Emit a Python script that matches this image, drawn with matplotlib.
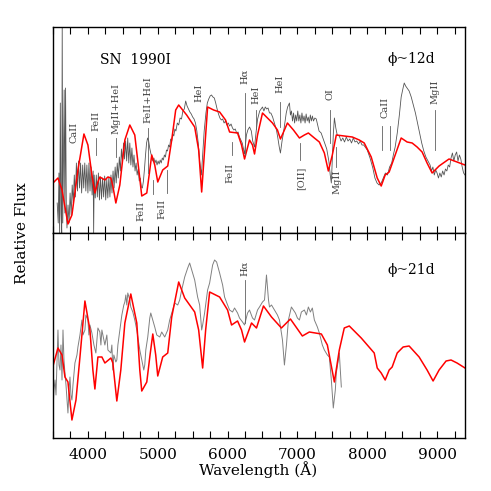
import matplotlib
matplotlib.use("Agg")
import matplotlib.pyplot as plt
from matplotlib.ticker import MultipleLocator

# ---------------- data (relative flux, arbitrary units) ----------------
# Top panel: phase ~12 d
obs12_wave = [3560, 3575, 3585, 3595, 3605, 3615, 3625, 3632, 3640, 3650, 3660, 3670, 3680, 3690,
              3700, 3715, 3730, 3745, 3760, 3775, 3790, 3805, 3820, 3835, 3850, 3865, 3880, 3895,
              3910, 3925, 3940, 3955, 3970, 3985, 4000, 4015, 4030, 4045, 4060, 4075, 4082, 4090,
              4105, 4120, 4135, 4150, 4165, 4180, 4195, 4210, 4225, 4240, 4255, 4270, 4285, 4300,
              4315, 4330, 4345, 4360, 4375, 4390, 4405, 4420, 4435, 4450, 4465, 4480, 4495, 4510,
              4525, 4540, 4555, 4570, 4585, 4600, 4615, 4630, 4645, 4660, 4675, 4690, 4705, 4720,
              4735, 4750, 4765, 4780, 4795, 4810, 4825, 4840, 4855, 4870, 4885, 4900, 4915, 4930,
              4945, 4960, 4975, 4990, 5005, 5020, 5035, 5050, 5065, 5080, 5095, 5110, 5125, 5140,
              5155, 5170, 5185, 5200, 5215, 5230, 5245, 5260, 5280, 5300, 5320, 5340, 5360, 5380,
              5400, 5420, 5440, 5460, 5480, 5500, 5520, 5540, 5560, 5580, 5600, 5625, 5645, 5665,
              5690, 5710, 5730, 5750, 5770, 5790, 5810, 5830, 5850, 5870, 5890, 5910, 5930, 5950,
              5970, 5990, 6010, 6030, 6050, 6070, 6090, 6110, 6130, 6150, 6170, 6190, 6210, 6243,
              6270, 6290, 6315, 6340, 6360, 6386, 6410, 6430, 6460, 6480, 6500, 6520, 6540, 6560,
              6580, 6600, 6620, 6645, 6670, 6700, 6720, 6740, 6757, 6780, 6800, 6820, 6840, 6860,
              6886, 6900, 6915, 6930, 6945, 6960, 6975, 6990, 7005, 7020, 7035, 7050, 7065, 7080,
              7095, 7110, 7125, 7140, 7155, 7170, 7185, 7200, 7215, 7230, 7250, 7270, 7290, 7310,
              7340, 7380, 7420, 7450, 7470, 7486, 7500, 7515, 7530, 7550, 7570, 7600, 7625, 7650,
              7675, 7700, 7725, 7750, 7775, 7800, 7825, 7850, 7875, 7900, 7925, 7950, 8000, 8040,
              8080, 8110, 8140, 8170, 8200, 8230, 8260, 8290, 8320, 8350, 8380, 8400, 8430, 8460,
              8486, 8510, 8530, 8550, 8570, 8600, 8630, 8660, 8690, 8720, 8750, 8780, 8810, 8840,
              8870, 8900, 8920, 8940, 8960, 8980, 9000, 9020, 9040, 9060, 9080, 9100, 9120, 9140,
              9160, 9180, 9200, 9220, 9240, 9260, 9280, 9300, 9320, 9340, 9360, 9380, 9400]
obs12_flux = [0.30, 0.10, 0.60, 0.00, 1.30, 0.20, 0.00, 2.10, 0.10, 0.80, 1.43, 0.20, 1.45, 0.30,
              0.05, 0.28, 0.10, 0.40, 0.18, 0.48, 0.30, 0.58, 0.36, 0.70, 0.42, 0.72, 0.45, 0.70,
              0.40, 0.68, 0.45, 0.70, 0.42, 0.68, 0.40, 0.70, 0.42, 0.66, 0.38, 0.62, 0.00, 0.58,
              0.35, 0.58, 0.36, 0.60, 0.33, 0.56, 0.34, 0.55, 0.36, 0.57, 0.33, 0.54, 0.35, 0.56,
              0.36, 0.58, 0.40, 0.62, 0.45, 0.66, 0.50, 0.70, 0.55, 0.76, 0.62, 0.84, 0.70, 0.90,
              0.74, 0.92, 0.72, 0.95, 0.70, 0.90, 0.68, 0.85, 0.66, 0.78, 0.62, 0.70, 0.58, 0.64,
              0.52, 0.55, 0.46, 0.45, 0.52, 0.64, 0.78, 0.90, 0.95, 0.92, 0.85, 0.80, 0.76, 0.72,
              0.75, 0.70, 0.73, 0.68, 0.72, 0.69, 0.73, 0.70, 0.75, 0.73, 0.78, 0.76, 0.83, 0.82,
              0.88, 0.86, 0.94, 0.92, 0.99, 0.97, 1.04, 1.02, 1.10, 1.08, 1.15, 1.14, 1.22, 1.24,
              1.32, 1.27, 1.24, 1.21, 1.19, 1.16, 1.14, 1.10, 1.02, 0.90, 0.72, 0.58, 0.80, 1.02,
              1.20, 1.30, 1.34, 1.37, 1.38, 1.36, 1.35, 1.30, 1.24, 1.19, 1.15, 1.13, 1.14, 1.10,
              1.12, 1.08, 1.10, 1.07, 1.09, 1.05, 1.03, 1.04, 1.00, 1.01, 0.96, 0.93, 0.90, 0.79,
              0.98, 1.03, 1.06, 1.02, 0.92, 0.86, 1.02, 1.14, 1.22, 1.24, 1.26, 1.22, 1.26, 1.24,
              1.25, 1.20, 1.20, 1.16, 1.10, 1.03, 0.95, 0.86, 0.80, 0.92, 1.00, 1.10, 1.20, 1.26,
              1.30, 1.18, 1.22, 1.12, 1.20, 1.10, 1.18, 1.12, 1.22, 1.12, 1.18, 1.10, 1.20, 1.12,
              1.17, 1.10, 1.19, 1.12, 1.16, 1.10, 1.18, 1.12, 1.17, 1.12, 1.15, 1.14, 1.08, 1.02,
              1.00, 0.92, 0.84, 0.72, 0.58, 0.50, 0.75, 1.00, 1.15, 1.05, 0.98, 0.97, 0.92, 0.95,
              0.91, 0.96, 0.92, 0.94, 0.90, 0.95, 0.91, 0.92, 0.89, 0.92, 0.88, 0.88, 0.83, 0.75,
              0.65, 0.55, 0.50, 0.48, 0.50, 0.55, 0.60, 0.58, 0.66, 0.70, 0.80, 0.86, 1.00, 1.18,
              1.36, 1.44, 1.50, 1.47, 1.45, 1.42, 1.36, 1.28, 1.20, 1.10, 1.00, 0.90, 0.82, 0.76,
              0.72, 0.68, 0.62, 0.66, 0.58, 0.63, 0.60, 0.55, 0.60, 0.56, 0.62, 0.58, 0.64, 0.62,
              0.68, 0.66, 0.75, 0.80, 0.72, 0.78, 0.81, 0.72, 0.78, 0.74, 0.66, 0.60, 0.58]

mod12_wave = [3500, 3571, 3629, 3714, 3771, 3857, 3943, 4000, 4057, 4100, 4143, 4171, 4243, 4286,
              4329, 4357, 4400, 4457, 4529, 4600, 4671, 4729, 4771, 4843, 4886, 4914, 4957, 5000,
              5071, 5143, 5200, 5257, 5300, 5357, 5414, 5529, 5586, 5629, 5671, 5714, 5800, 5886,
              5971, 6029, 6143, 6200, 6243, 6314, 6357, 6386, 6429, 6500, 6643, 6714, 6757, 6814,
              6857, 6943, 7029, 7100, 7157, 7243, 7314, 7386, 7443, 7500, 7557, 7671, 7786, 7886,
              7957, 8057, 8143, 8200, 8257, 8314, 8400, 8486, 8571, 8643, 8714, 8786, 8857, 8929,
              9029, 9171, 9400]
mod12_flux = [0.50, 0.55, 0.43, 0.09, 0.18, 0.63, 0.99, 0.88, 0.58, 0.40, 0.51, 0.56, 0.53, 0.56,
              0.55, 0.47, 0.30, 0.48, 0.93, 1.08, 0.98, 0.63, 0.37, 0.40, 0.63, 0.78, 0.68, 0.51,
              0.63, 0.67, 0.93, 1.23, 1.28, 1.23, 1.18, 1.06, 0.83, 0.41, 0.83, 1.26, 1.23, 1.21,
              1.13, 1.01, 1.00, 0.88, 0.74, 0.93, 0.88, 0.79, 0.98, 1.20, 1.10, 1.03, 0.94, 1.03,
              1.10, 1.03, 0.95, 0.98, 1.00, 0.95, 0.91, 0.80, 0.62, 0.78, 0.98, 0.97, 0.96, 0.93,
              0.90, 0.76, 0.55, 0.47, 0.58, 0.61, 0.78, 0.95, 0.91, 0.90, 0.86, 0.81, 0.70, 0.60,
              0.67, 0.74, 0.68]

# Bottom panel: phase ~21 d
obs21_wave = [3500, 3514, 3529, 3543, 3571, 3586, 3600, 3614, 3629, 3643, 3657, 3671, 3686, 3714,
              3729, 3743, 3757, 3771, 3786, 3814, 3843, 3857, 3886, 3914, 3929, 3957, 3971, 4000,
              4014, 4029, 4057, 4086, 4114, 4129, 4143, 4171, 4186, 4200, 4229, 4243, 4271, 4286,
              4329, 4343, 4357, 4371, 4400, 4414, 4429, 4457, 4486, 4514, 4529, 4543, 4557, 4571,
              4600, 4614, 4643, 4671, 4700, 4743, 4771, 4800, 4814, 4829, 4857, 4886, 4900, 4929,
              4957, 4986, 5029, 5057, 5100, 5143, 5171, 5214, 5243, 5286, 5314, 5343, 5386, 5429,
              5457, 5486, 5529, 5571, 5600, 5629, 5643, 5671, 5714, 5743, 5786, 5814, 5843, 5886,
              5929, 5957, 6000, 6029, 6071, 6100, 6143, 6171, 6214, 6243, 6286, 6314, 6357, 6386,
              6429, 6457, 6500, 6529, 6557, 6586, 6600, 6629, 6671, 6714, 6743, 6786, 6814, 6843,
              6871, 6914, 6943, 6971, 7000, 7029, 7057, 7100, 7129, 7157, 7186, 7214, 7243, 7286,
              7314, 7357, 7386, 7429, 7457, 7486, 7514, 7543, 7557, 7586, 7600, 7629]
obs21_flux = [0.28, 0.48, 0.58, 0.43, 1.08, 0.73, 0.68, 0.93, 0.58, 1.08, 0.78, 0.65, 0.53, 0.25,
              0.48, 0.61, 0.43, 0.38, 0.53, 0.75, 0.83, 0.91, 1.03, 1.18, 1.03, 1.08, 1.23, 1.18,
              1.03, 1.13, 1.05, 0.93, 0.85, 0.98, 1.10, 1.06, 0.93, 1.08, 0.98, 0.93, 1.03, 0.88,
              0.85, 0.93, 0.68, 0.83, 0.76, 0.78, 0.93, 1.08, 1.23, 1.33, 1.36, 1.43, 1.33, 1.45,
              1.38, 1.31, 1.26, 1.18, 1.08, 0.88, 0.78, 0.68, 0.73, 0.88, 1.01, 1.20, 1.25, 1.18,
              1.11, 1.03, 1.01, 1.06, 1.01, 1.08, 1.18, 1.28, 1.35, 1.33, 1.38, 1.48, 1.61, 1.70,
              1.75, 1.68, 1.58, 1.41, 1.33, 1.08, 1.13, 1.25, 1.48, 1.55, 1.73, 1.78, 1.76, 1.65,
              1.53, 1.41, 1.33, 1.28, 1.26, 1.30, 1.25, 1.20, 1.16, 1.13, 1.25, 1.28, 1.20, 1.18,
              1.28, 1.31, 1.36, 1.38, 1.63, 1.38, 1.31, 1.33, 1.28, 1.23, 1.18, 0.98, 0.73, 0.93,
              1.18, 1.31, 1.28, 1.25, 1.20, 1.18, 1.26, 1.28, 1.23, 1.31, 1.26, 1.30, 1.18, 1.11,
              1.05, 0.93, 0.88, 0.83, 0.81, 0.58, 0.30, 0.48, 0.65, 0.78, 0.85, 0.51]

mod21_wave = [3500, 3571, 3629, 3671, 3714, 3771, 3829, 3886, 3957, 4029, 4071, 4100, 4143, 4200,
              4243, 4329, 4357, 4414, 4471, 4529, 4614, 4700, 4743, 4771, 4843, 4886, 4929, 4971,
              5000, 5071, 5143, 5200, 5300, 5386, 5529, 5586, 5643, 5686, 5743, 5886, 6000, 6057,
              6143, 6200, 6243, 6343, 6414, 6514, 6629, 6771, 6900, 7071, 7171, 7343, 7429, 7529,
              7600, 7671, 7743, 7914, 8100, 8143, 8200, 8257, 8314, 8357, 8429, 8514, 8600, 8743,
              8857, 8943, 9029, 9129, 9200, 9286, 9400]
mod21_flux = [0.72, 0.90, 0.83, 0.61, 0.56, 0.18, 0.38, 0.81, 1.37, 1.08, 0.68, 0.49, 0.81, 0.81,
              0.75, 0.80, 0.75, 0.37, 0.68, 1.15, 1.44, 1.15, 0.68, 0.47, 0.56, 0.81, 1.04, 0.83,
              0.62, 0.81, 0.85, 1.21, 1.56, 1.40, 1.26, 1.08, 0.70, 1.08, 1.46, 1.41, 1.28, 1.13,
              1.17, 1.08, 0.96, 1.15, 1.10, 1.32, 1.21, 1.10, 1.19, 1.02, 1.06, 1.04, 0.93, 0.56,
              0.88, 1.10, 1.12, 1.00, 0.85, 0.70, 0.65, 0.58, 0.68, 0.71, 0.85, 0.91, 0.92, 0.81,
              0.68, 0.57, 0.68, 0.77, 0.78, 0.75, 0.70]

# Line identifications: (label, wavelength, text flux, line top, line bottom)
ids_top = [("CaII", 3800, 1.01, None, None),
           ("FeII", 4110, 1.12, 0.95, 0.78),
           ("MgII+HeI", 4400, 1.25, 0.95, 0.76),
           ("FeII+HeI", 4857, 1.33, 1.05, 0.60),
           ("HeI", 5590, 1.40, None, None),
           ("Hα", 6243, 1.57, 1.40, 0.78),
           ("HeI", 6400, 1.38, 1.23, 1.04),
           ("HeI", 6750, 1.49, 1.31, 1.06),
           ("OI", 7471, 1.39, 1.23, 0.90),
           ("CaII", 8257, 1.26, None, None),
           ("MgII", 8971, 1.41, 1.23, 0.83)]
ids_top_below = [("FeII", 4757, 0.22),
                 ("FeII", 5057, 0.24),
                 ("FeII", 6029, 0.60),
                 ("[OII]", 7057, 0.55),
                 ("MgII", 7571, 0.51)]
extra_lines_top = [(4929, 0.53, 0.39), (5129, 0.63, 0.40), (6057, 0.91, 0.78),
                   (7043, 0.90, 0.73), (7557, 0.86, 0.66), (8214, 1.07, 0.83), (8329, 1.07, 0.83)]
ids_bottom = [("Hα", 6243, 1.70, 1.58, 1.15)]

# ---------------- figure ----------------
plt.rcParams['font.family'] = ['DejaVu Serif']
fig = plt.figure(figsize=(4.91, 4.91), dpi=100)
L, R = 53 / 491, 465 / 491
ax1 = fig.add_axes([L, 258 / 491, R - L, 206 / 491])
ax2 = fig.add_axes([L, 53 / 491, R - L, 205 / 491])

obs_col_top = '#555555'
obs_col_bot = '#808080'
lab_col = '#404040'

ax1.plot(obs12_wave, obs12_flux, color=obs_col_top, lw=0.6)
ax1.plot(mod12_wave, mod12_flux, color='#ff0000', lw=1.1)
ax2.plot(obs21_wave, obs21_flux, color=obs_col_bot, lw=0.7)
ax2.plot(mod21_wave, mod21_flux, color='#ff0000', lw=1.1)

for ax, top in ((ax1, 2.06), (ax2, 2.05)):
    ax.set_xlim(3500, 9400)
    ax.set_ylim(0, top)
    ax.xaxis.set_major_locator(MultipleLocator(1000))
    ax.xaxis.set_minor_locator(MultipleLocator(250))
    ax.tick_params(axis='x', which='both', direction='in', top=True, bottom=True,
                   length=5, width=0.8, labelsize=11, pad=7)
    ax.set_yticks([])
    for s in ax.spines.values():
        s.set_linewidth(1.0)

ax1.tick_params(axis='x', which='both', labelbottom=False)

for lab, w, ft, l0, l1 in ids_top:
    ax1.text(w, ft, lab, rotation=90, ha='center', va='center', fontsize=7, color=lab_col)
    if l0 is not None:
        ax1.plot([w, w], [l0, l1], color='#606060', lw=0.6)
for lab, w, ft in ids_top_below:
    ax1.text(w, ft, lab, rotation=90, ha='center', va='center', fontsize=7, color=lab_col)
for w, l0, l1 in extra_lines_top:
    ax1.plot([w, w], [l0, l1], color='#606060', lw=0.6)
for lab, w, ft, l0, l1 in ids_bottom:
    ax2.text(w, ft, lab, rotation=90, ha='center', va='center', fontsize=7, color=lab_col)
    ax2.plot([w, w], [l0, l1], color='#606060', lw=0.6)

ax1.text(0.20, 0.84, "SN  1990I", transform=ax1.transAxes, fontsize=10,
         ha='center', va='center')
ax1.text(0.87, 0.845, "ϕ~12d", transform=ax1.transAxes, fontsize=10,
         ha='center', va='center')
ax2.text(0.87, 0.82, "ϕ~21d", transform=ax2.transAxes, fontsize=10,
         ha='center', va='center')

fig.text(0.045, 0.525, "Relative Flux", rotation=90, ha='center', va='center', fontsize=11)
fig.text(0.525, 0.043, "Wavelength (Å)", ha='center', va='center', fontsize=11)

fig.savefig("out.png", dpi=100)
